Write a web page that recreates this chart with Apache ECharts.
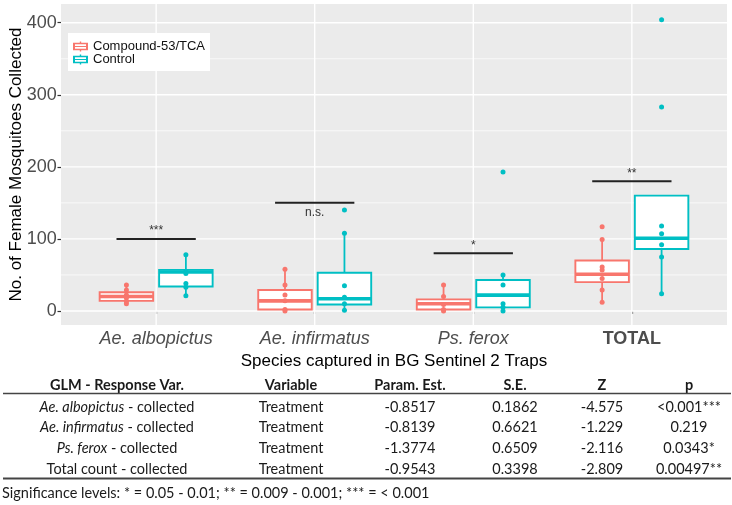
<!DOCTYPE html>
<html><head><meta charset="utf-8">
<script src="https://cdn.jsdelivr.net/npm/echarts@6/dist/echarts.min.js"></script>
<style>html,body{margin:0;padding:0;background:#fff}#c{width:732px;height:505px}</style>
</head><body><div id="c"></div>
<script>
var categories = ['Ae. albopictus', 'Ae. infirmatus', 'Ps. ferox', 'TOTAL'];
var groups = ['Compound-53/TCA', 'Control'];
// box stats: [lower whisker, Q1, median, Q3, upper whisker]
var boxTreatment = [[10, 14, 20, 26, 36], [0, 2, 14, 29, 58], [0, 2, 10, 16, 36], [12, 40, 51, 70, 99]];
var boxControl = [[21, 34, 54, 57, 78], [1, 9, 17, 53, 108], [0, 5, 22, 43, 50], [24, 86, 101, 160, 160]];
var pointsTreatment = [[36, 29, 22, 18, 13, 10], [58, 36, 22, 14, 2, 0], [36, 20, 9, 2, 0], [117, 99, 61, 57, 45, 29, 12]];
var pointsControl = [[78, 55, 52, 38, 33, 21], [140, 108, 35, 19, 10, 1], [193, 50, 36, 10, 5, 0], [404, 283, 118, 107, 92, 75, 24]];
var sigY = [100, 150, 80, 180];
var sigLabels = ['***', 'n.s.', '*', '**'];
var sigAbove = [true, false, true, true];
var yTicks = [0, 100, 200, 300, 400];
var yMinor = [50, 150, 250, 350];
var tableHeader = ['GLM - Response Var.', 'Variable', 'Param. Est.', 'S.E.', 'Z', 'p'];
var tableResponse = ['{i|Ae. albopictus} - collected', '{i|Ae. infirmatus} - collected', '{i|Ps. ferox} - collected', 'Total count - collected'];
var tableVariable = ['Treatment', 'Treatment', 'Treatment', 'Treatment'];
var tableEst = ['-0.8517', '-0.8139', '-1.3774', '-0.9543'];
var tableSE = ['0.1862', '0.6621', '0.6509', '0.3398'];
var tableZ = ['-4.575', '-1.229', '-2.116', '-2.809'];
var tableP = ['<0.001***', '0.219', '0.0343*', '0.00497**'];
var footnote = 'Significance levels: * = 0.05 - 0.01; ** = 0.009 - 0.001; *** = < 0.001';

var RED = '#F8766D', TEAL = '#00BFC4';
var PF = 'Liberation Sans, Arial, sans-serif';
var TF = 'Lato, sans-serif';
var dodge = 0.1875, boxW = 0.3375;

function boxData(stats, off) {
  return stats.map(function (s, i) { return [i + 1 + off].concat(s); });
}
function pointData(pts, off) {
  var out = [];
  pts.forEach(function (arr, i) { arr.forEach(function (v) { out.push([i + 1 + off, v]); }); });
  return out;
}
function boxRender(params, api) {
  var x = api.value(0);
  var lo = api.coord([x, api.value(1)]), q1 = api.coord([x, api.value(2)]), md = api.coord([x, api.value(3)]),
      q3 = api.coord([x, api.value(4)]), hi = api.coord([x, api.value(5)]);
  var hw = api.size([boxW, 0])[0] / 2;
  var c = api.visual('color');
  return { type: 'group', children: [
    { type: 'line', shape: { x1: lo[0], y1: lo[1], x2: q1[0], y2: q1[1] }, style: { stroke: c, lineWidth: 1.8 } },
    { type: 'line', shape: { x1: q3[0], y1: q3[1], x2: hi[0], y2: hi[1] }, style: { stroke: c, lineWidth: 1.8 } },
    { type: 'rect', shape: { x: q3[0] - hw, y: q3[1], width: hw * 2, height: q1[1] - q3[1] }, style: { fill: '#fff', stroke: c, lineWidth: 1.9 } },
    { type: 'line', shape: { x1: md[0] - hw, y1: md[1], x2: md[0] + hw, y2: md[1] }, style: { stroke: c, lineWidth: 3.6 } }
  ] };
}

var legendIcon = 'path://M0,1.2H15V8.8H0Z M2,2.7V4.4H13V2.7Z M2,5.6V7.3H13V5.6Z M6.8,0H8.2V1.2H6.8Z M6.8,8.8H8.2V10H6.8Z';

// table graphics
var colX = [117, 291, 410, 515, 602, 689];
var TS = 15.5, SX = 0.935;
var graphics = [];
tableHeader.forEach(function (h, j) {
  graphics.push({ type: 'text', x: colX[j], y: 385, scaleX: SX, style: { text: h, fontFamily: TF, fontSize: TS, fontWeight: 'bold', fill: '#1a1a1a', align: 'center', verticalAlign: 'middle' } });
});
graphics.push({ type: 'line', shape: { x1: 3, y1: 393.5, x2: 731, y2: 393.5 }, style: { stroke: '#444', lineWidth: 1.6 } });
var cols = [tableResponse, tableVariable, tableEst, tableSE, tableZ, tableP];
cols.forEach(function (col, j) {
  col.forEach(function (t, i) {
    graphics.push({ type: 'text', x: colX[j], y: 406.5 + i * 20.7, scaleX: SX, style: { text: t, fontFamily: TF, fontSize: TS, fill: '#1a1a1a', align: 'center', verticalAlign: 'middle', rich: { i: { fontStyle: 'italic', fontFamily: TF, fontSize: TS, fill: '#1a1a1a' } } } });
  });
});
graphics.push({ type: 'line', shape: { x1: 3, y1: 478.5, x2: 731, y2: 478.5 }, style: { stroke: '#444', lineWidth: 1.8 } });
graphics.push({ type: 'text', x: 2, y: 493, scaleX: SX, style: { text: footnote, fontFamily: TF, fontSize: TS, fill: '#1a1a1a', align: 'left', verticalAlign: 'middle' } });

var chart = echarts.init(document.getElementById('c'), null, { renderer: 'canvas' });
chart.setOption({
  animation: false,
  grid: { left: 61, right: 5, top: 4, bottom: 180, show: true, backgroundColor: '#EBEBEB', borderWidth: 0, containLabel: false, outerBoundsMode: 'none' },
  legend: {
    data: [{ name: groups[0], icon: legendIcon }, { name: groups[1], icon: legendIcon }],
    orient: 'vertical', left: 68, top: 33, itemWidth: 15, itemHeight: 10, itemGap: 0,
    padding: [7, 5, 5, 5], backgroundColor: '#fff', selectedMode: false,
    textStyle: { fontSize: 13, color: '#111', fontFamily: PF }
  },
  xAxis: {
    type: 'value', min: 0.4, max: 4.6,
    axisLine: { show: false }, splitLine: { show: false },
    axisTick: { show: true, customValues: [1, 2, 3, 4], length: 3, lineStyle: { color: '#333', width: 1.2 } },
    axisLabel: {
      customValues: [1, 2, 3, 4], margin: 5, fontSize: 18, color: '#4d4d4d', fontFamily: PF,
      formatter: function (v) { var n = categories[Math.round(v) - 1]; return n === 'TOTAL' ? '{b|' + n + '}' : '{i|' + n + '}'; },
      rich: { i: { fontStyle: 'italic', fontSize: 18, color: '#4d4d4d', fontFamily: PF }, b: { fontWeight: 'bold', fontSize: 18, color: '#4d4d4d', fontFamily: PF } }
    },
    name: 'Species captured in BG Sentinel 2 Traps', nameLocation: 'middle', nameGap: 25,
    nameTextStyle: { fontSize: 17, color: '#000', fontFamily: PF }
  },
  yAxis: {
    type: 'value', min: -19.5, max: 426,
    axisLine: { show: false }, splitLine: { show: false },
    axisTick: { show: true, customValues: yTicks, length: 3.5, lineStyle: { color: '#333', width: 1.2 } },
    axisLabel: { customValues: yTicks, margin: 4.3, fontSize: 18, color: '#4d4d4d', fontFamily: PF },
    name: 'No. of Female Mosquitoes Collected', nameLocation: 'middle', nameRotate: 90, nameGap: 36, nameMoveOverlap: false,
    nameTextStyle: { fontSize: 17, color: '#000', fontFamily: PF }
  },
  graphic: graphics,
  series: [
    { type: 'custom', silent: true, z: 1, data: yTicks.map(function (v) { return [1, v, 1]; }).concat(yMinor.map(function (v) { return [1, v, 0]; })),
      encode: { x: 0, y: 1 },
      renderItem: function (p, api) { var cs = p.coordSys; var y = api.coord([1, api.value(1)])[1];
        return { type: 'line', shape: { x1: cs.x, y1: y, x2: cs.x + cs.width, y2: y }, style: { stroke: '#fff', lineWidth: api.value(2) ? 1.4 : 0.7 } }; } },
    { type: 'custom', silent: true, z: 1, data: categories.map(function (c, i) { return [i + 1, 0]; }),
      encode: { x: 0, y: 1 },
      renderItem: function (p, api) { var cs = p.coordSys; var x = api.coord([api.value(0), 0])[0];
        return { type: 'line', shape: { x1: x, y1: cs.y, x2: x, y2: cs.y + cs.height }, style: { stroke: '#fff', lineWidth: 1.4 } }; } },
    { type: 'custom', name: groups[0], z: 3, silent: true, itemStyle: { color: RED }, data: boxData(boxTreatment, -dodge), encode: { x: 0, y: [1, 2, 3, 4, 5] }, renderItem: boxRender },
    { type: 'custom', name: groups[1], z: 3, silent: true, itemStyle: { color: TEAL }, data: boxData(boxControl, dodge), encode: { x: 0, y: [1, 2, 3, 4, 5] }, renderItem: boxRender },
    { type: 'scatter', name: groups[0], z: 4, silent: true, symbolSize: 5, itemStyle: { color: RED, opacity: 1 }, data: pointData(pointsTreatment, -dodge) },
    { type: 'scatter', name: groups[1], z: 4, silent: true, symbolSize: 5, itemStyle: { color: TEAL, opacity: 1 }, data: pointData(pointsControl, dodge) },
    { type: 'custom', z: 5, silent: true, data: sigY.map(function (v, i) { return [i + 1, v, i]; }), encode: { x: 0, y: 1 },
      renderItem: function (p, api) {
        var x = api.value(0), y = api.value(1), idx = api.value(2);
        var a = api.coord([x - 0.25, y]), b = api.coord([x + 0.25, y]);
        return { type: 'group', children: [
          { type: 'line', shape: { x1: a[0], y1: a[1], x2: b[0], y2: b[1] }, style: { stroke: '#222', lineWidth: 2 } },
          { type: 'text', x: (a[0] + b[0]) / 2, y: a[1] + (sigAbove[idx] ? -8 : 10), style: { text: sigLabels[idx], fontSize: 12, fontFamily: PF, fill: '#333', align: 'center', verticalAlign: 'middle' } }
        ] };
      } }
  ]
});
</script></body></html>
